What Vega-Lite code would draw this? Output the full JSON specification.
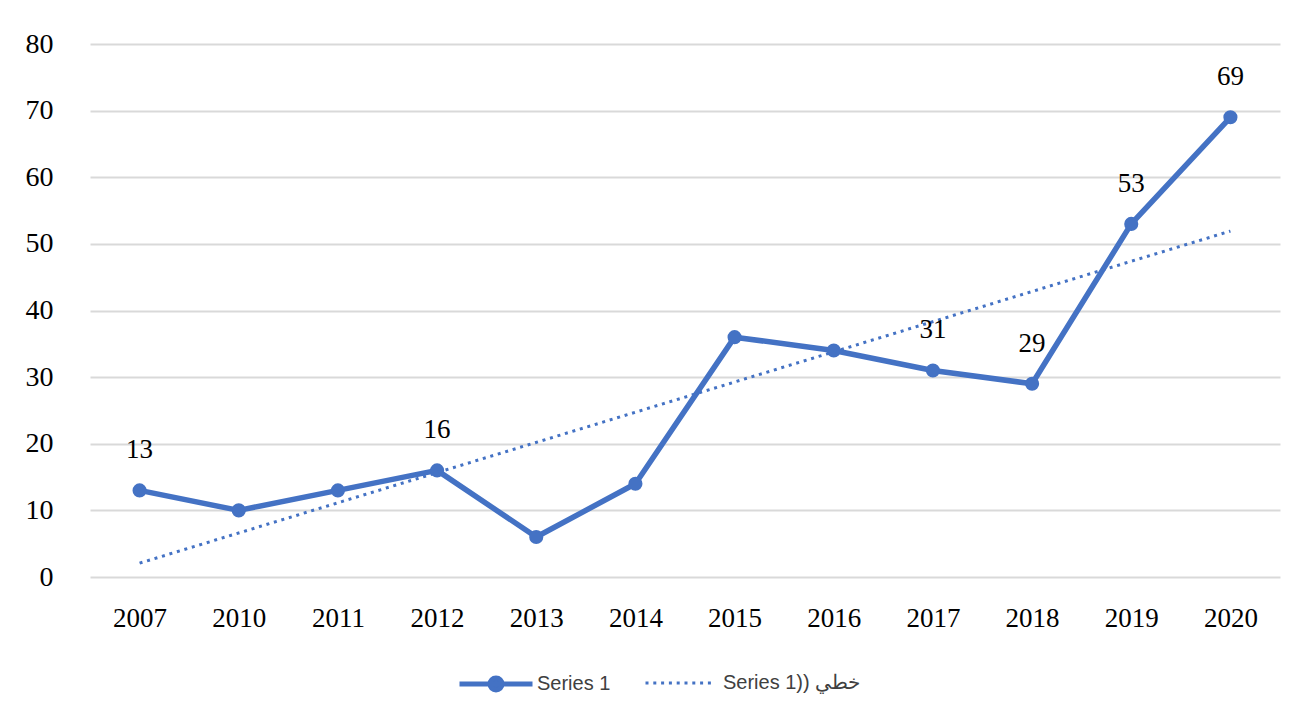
{
  "$schema": "https://vega.github.io/schema/vega-lite/v6.json",
  "width": 1190,
  "height": 533,
  "autosize": {"type": "none"},
  "padding": {"left": 90, "top": 44, "right": 29, "bottom": 141},
  "background": "white",
  "config": {
    "view": {"stroke": null},
    "font": "Liberation Serif"
  },
  "datasets": {
    "main": [
      {"year": "2007", "value": 13, "label": "13"},
      {"year": "2010", "value": 10, "label": null},
      {"year": "2011", "value": 13, "label": null},
      {"year": "2012", "value": 16, "label": "16"},
      {"year": "2013", "value": 6, "label": null},
      {"year": "2014", "value": 14, "label": null},
      {"year": "2015", "value": 36, "label": null},
      {"year": "2016", "value": 34, "label": null},
      {"year": "2017", "value": 31, "label": "31"},
      {"year": "2018", "value": 29, "label": "29"},
      {"year": "2019", "value": 53, "label": "53"},
      {"year": "2020", "value": 69, "label": "69"}
    ],
    "trend": [
      {"year": "2007", "value": 2.08},
      {"year": "2020", "value": 51.92}
    ]
  },
  "encoding": {
    "x": {
      "field": "year",
      "type": "ordinal",
      "sort": ["2007","2010","2011","2012","2013","2014","2015","2016","2017","2018","2019","2020"],
      "scale": {"type": "point", "padding": 0.5, "domain": ["2007","2010","2011","2012","2013","2014","2015","2016","2017","2018","2019","2020"]},
      "axis": {
        "title": null,
        "labelAngle": 0,
        "domain": false,
        "ticks": false,
        "labelPadding": 28,
        "labelFont": "Liberation Serif",
        "labelFontSize": 27,
        "labelColor": "#000000",
        "grid": false
      }
    },
    "y": {
      "field": "value",
      "type": "quantitative",
      "scale": {"domain": [0, 80], "nice": false},
      "axis": {
        "title": null,
        "values": [0, 10, 20, 30, 40, 50, 60, 70, 80],
        "domain": false,
        "ticks": false,
        "labelPadding": 37,
        "labelFont": "Liberation Serif",
        "labelFontSize": 28,
        "labelColor": "#000000",
        "grid": true,
        "gridColor": "#d9d9d9",
        "gridWidth": 2
      }
    }
  },
  "layer": [
    {
      "data": {"name": "main"},
      "mark": {"type": "line", "strokeWidth": 5.5, "strokeJoin": "round"},
      "encoding": {
        "color": {
          "datum": "Series 1",
          "scale": {"domain": ["Series 1"], "range": ["#4472C4"]},
          "legend": {
            "title": null,
            "orient": "none",
            "direction": "horizontal",
            "legendX": 367,
            "legendY": 601,
            "labelFont": "Liberation Sans",
            "labelFontSize": 20,
            "labelColor": "#404040",
            "labelOffset": 2,
            "symbolType": "M-1,0L1,0M-0.165,0A0.165,0.165,0,1,1,0.165,0A0.165,0.165,0,1,1,-0.165,0Z",
            "symbolSize": 5329,
            "symbolFillColor": "#4472C4",
            "symbolStrokeColor": "#4472C4",
            "symbolStrokeWidth": 5,
            "symbolOpacity": 1
          }
        }
      }
    },
    {
      "data": {"name": "main"},
      "mark": {"type": "point", "filled": true, "size": 200, "opacity": 1},
      "encoding": {
        "color": {"datum": "Series 1"}
      }
    },
    {
      "data": {"name": "trend"},
      "mark": {"type": "line", "color": "#4472C4", "strokeWidth": 3},
      "encoding": {
        "strokeDash": {
          "datum": "Series 1)) خطي",
          "scale": {"domain": ["Series 1)) خطي"], "range": [[3, 4.8]]},
          "legend": {
            "title": null,
            "orient": "none",
            "direction": "horizontal",
            "legendX": 554,
            "legendY": 604.5,
            "labelFont": "Liberation Sans",
            "labelFontSize": 20,
            "labelColor": "#404040",
            "labelOffset": 10,
            "symbolType": "M-1,0L1,0",
            "symbolSize": 4356,
            "symbolStrokeColor": "#4472C4",
            "symbolStrokeWidth": 3,
            "symbolOpacity": 1
          }
        }
      }
    },
    {
      "data": {"name": "main"},
      "transform": [{"filter": "datum.label != null"}],
      "mark": {"type": "text", "font": "Liberation Serif", "fontSize": 27, "color": "#000000", "dy": -40, "baseline": "middle"},
      "encoding": {
        "text": {"field": "label"}
      }
    }
  ]
}
